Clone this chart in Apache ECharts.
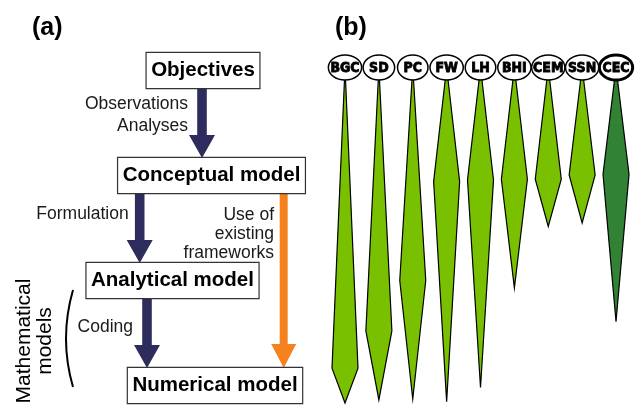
<!DOCTYPE html>
<html><head><meta charset="utf-8">
<script src="https://cdn.jsdelivr.net/npm/echarts@6/dist/echarts.min.js"></script>
<style>html,body{margin:0;padding:0;background:#fff}#c{width:635px;height:407px}</style>
</head><body><div id="c"></div>
<script>
// ---------- Panel (a): modelling steps ----------
const steps = ['Objectives', 'Conceptual model', 'Analytical model', 'Numerical model'];
const linkFrom = [0, 1, 2, 1];
const linkTo = [1, 2, 3, 3];
const linkLabels = [['Observations', 'Analyses'], ['Formulation'], ['Coding'], ['Use of', 'existing', 'frameworks']];
const linkKinds = ['main', 'main', 'main', 'alt'];
const bracketLabel = ['Mathematical', 'models'];
const panelTitles = ['(a)', '(b)'];

// ---------- Panel (b): model kites ----------
const models = ['BGC', 'SD', 'PC', 'FW', 'LH', 'BHI', 'CEM', 'SSN', 'CEC'];
const startVal = [0, 0, 0, 0, 0, 0, 0, 0, 0];
const peakVal = [89.6, 78.5, 63.5, 34.0, 33.5, 33.3, 33.3, 32.0, 31.8];
const endVal = [100, 99.1, 98.8, 99.6, 95.4, 65.7, 47.4, 46.3, 75.8];
const highlighted = ['CEC'];

// ---------- layout / style (not data) ----------
const boxCx = [203, 211.5, 172.5, 215];
const linkX = [202, 139.7, 147, 283.7];
const labelDx = [-14, -11, -14, -9.7];
const labelFrac = [0.43, 0.37, 0.44, 0.28];
const BOX_H = 35;
const FONT = '"Liberation Sans", Arial, Helvetica, sans-serif';
const NARROW = '"Liberation Sans Narrow", "DejaVu Sans Condensed", "Liberation Sans", sans-serif';
const NAVY = '#2E2C5C', ORANGE = '#F5821F';
const LIGHT_GREEN = '#79C100', DARK_GREEN = '#318234';
const KITE_HALF = 13, ELL_RY = 12.5;

const measureCtx = document.createElement('canvas').getContext('2d');
function textWidth(t, font) { measureCtx.font = font; return measureCtx.measureText(t).width; }

const chart = echarts.init(document.getElementById('c'), null, { renderer: 'canvas' });

function renderNode(params, api) {
  const i = params.dataIndex;
  const p = api.coord([boxCx[i], api.value(0)]);
  return {
    type: 'text', x: p[0], y: p[1], z2: 10,
    style: {
      text: steps[i], font: 'bold 20.5px ' + FONT, fill: '#000',
      align: 'center', verticalAlign: 'middle', lineHeight: 25,
      backgroundColor: '#fff', borderColor: '#333', borderWidth: 1.2,
      padding: [5, 4.5, 5, 4.5]
    }
  };
}

function renderLink(params, api) {
  const i = params.dataIndex;
  const a = api.value(0), b = api.value(1);
  const x = linkX[i];
  const pa = api.coord([x, a]), pb = api.coord([x, b]);
  const y0 = pa[1] + BOX_H / 2, y1 = pb[1] - BOX_H / 2;
  const alt = linkKinds[i] === 'alt';
  const sw = alt ? 4 : 4.8, hw = alt ? 12.5 : 13, hl = alt ? 24 : 23;
  const cx = pa[0];
  const pts = [[cx - sw, y0], [cx + sw, y0], [cx + sw, y1 - hl], [cx + hw, y1 - hl], [cx, y1], [cx - hw, y1 - hl], [cx - sw, y1 - hl]];
  const ly = api.coord([x, a + labelFrac[i] * (b - a)])[1];
  return {
    type: 'group',
    children: [
      { type: 'polygon', shape: { points: pts }, style: { fill: alt ? ORANGE : NAVY } },
      {
        type: 'text', x: cx + labelDx[i], y: ly,
        style: {
          text: linkLabels[i].join('\n'), font: '17.5px ' + FONT, fill: '#1a1a1a',
          align: 'right', verticalAlign: 'middle', lineHeight: alt ? 19 : 22
        }
      }
    ]
  };
}

function renderKite(params, api) {
  const i = params.dataIndex;
  const idx = api.value(0);
  const cx = api.coord([idx, 0])[0];
  const yTop = api.coord([idx, api.value(1)])[1];
  const yPeak = api.coord([idx, api.value(2)])[1];
  const yEnd = api.coord([idx, api.value(3)])[1];
  const band = api.size([1, 0])[0];
  const hl = highlighted.indexOf(models[i]) >= 0;
  const font = 'bold 14px ' + NARROW;
  const rx = Math.min((textWidth(models[i], font) + 12) / 2, band / 2 - 0.3);
  return {
    type: 'group',
    children: [
      {
        type: 'polygon', z2: 1,
        shape: { points: [[cx, yTop], [cx + KITE_HALF, yPeak], [cx, yEnd], [cx - KITE_HALF, yPeak]] },
        style: { fill: hl ? DARK_GREEN : LIGHT_GREEN, stroke: '#000', lineWidth: 1.2, lineJoin: 'miter' }
      },
      {
        type: 'ellipse', z2: 5,
        shape: { cx: cx, cy: yTop, rx: rx, ry: ELL_RY },
        style: { fill: '#fff', stroke: '#000', lineWidth: hl ? 3 : 1.5 }
      },
      {
        type: 'text', z2: 6, x: cx, y: yTop + 0.5,
        style: {
          text: models[i], font: font, fill: '#000', stroke: '#000', lineWidth: 0.8,
          align: 'center', verticalAlign: 'middle'
        }
      }
    ]
  };
}

const option = {
  animation: false,
  backgroundColor: '#fff',
  grid: [
    { left: 0, top: 70.5, width: 320, height: 315 },
    { left: 328.06, top: 67.5, width: 304.9, height: 335.5 }
  ],
  xAxis: [
    { gridIndex: 0, type: 'value', min: 0, max: 320, show: false },
    { gridIndex: 1, type: 'category', data: models, boundaryGap: true, show: false }
  ],
  yAxis: [
    { gridIndex: 0, type: 'value', min: 0, max: 3, inverse: true, show: false },
    { gridIndex: 1, type: 'value', min: 0, max: 100, inverse: true, show: false }
  ],
  graphic: [
    { type: 'text', left: 32, top: 16, style: { text: panelTitles[0], font: 'bold 25px ' + FONT, fill: '#000' } },
    { type: 'text', left: 335, top: 16, style: { text: panelTitles[1], font: 'bold 25px ' + FONT, fill: '#000' } },
    {
      type: 'text', x: 34.5, y: 341, rotation: Math.PI / 2,
      style: { text: bracketLabel.join('\n'), font: '21px ' + FONT, fill: '#000', align: 'center', verticalAlign: 'middle', lineHeight: 21 }
    },
    {
      type: 'bezierCurve',
      shape: { x1: 73, y1: 290, x2: 73, y2: 387, cpx1: 59, cpy1: 338.5 },
      style: { stroke: '#000', lineWidth: 2, fill: null }
    }
  ],
  series: [
    {
      type: 'custom', name: 'links', xAxisIndex: 0, yAxisIndex: 0, silent: true, z: 2,
      data: linkFrom.map((f, i) => [f, linkTo[i]]),
      encode: { y: [0, 1] },
      renderItem: renderLink
    },
    {
      type: 'custom', name: 'steps', xAxisIndex: 0, yAxisIndex: 0, silent: true, z: 3,
      data: steps.map((s, i) => [i]),
      encode: { y: 0 },
      renderItem: renderNode
    },
    {
      type: 'custom', name: 'models', xAxisIndex: 1, yAxisIndex: 1, silent: true, z: 2,
      data: models.map((m, i) => [i, startVal[i], peakVal[i], endVal[i]]),
      encode: { x: 0, y: [1, 2, 3] },
      renderItem: renderKite
    }
  ]
};
chart.setOption(option);
</script>
</body></html>
